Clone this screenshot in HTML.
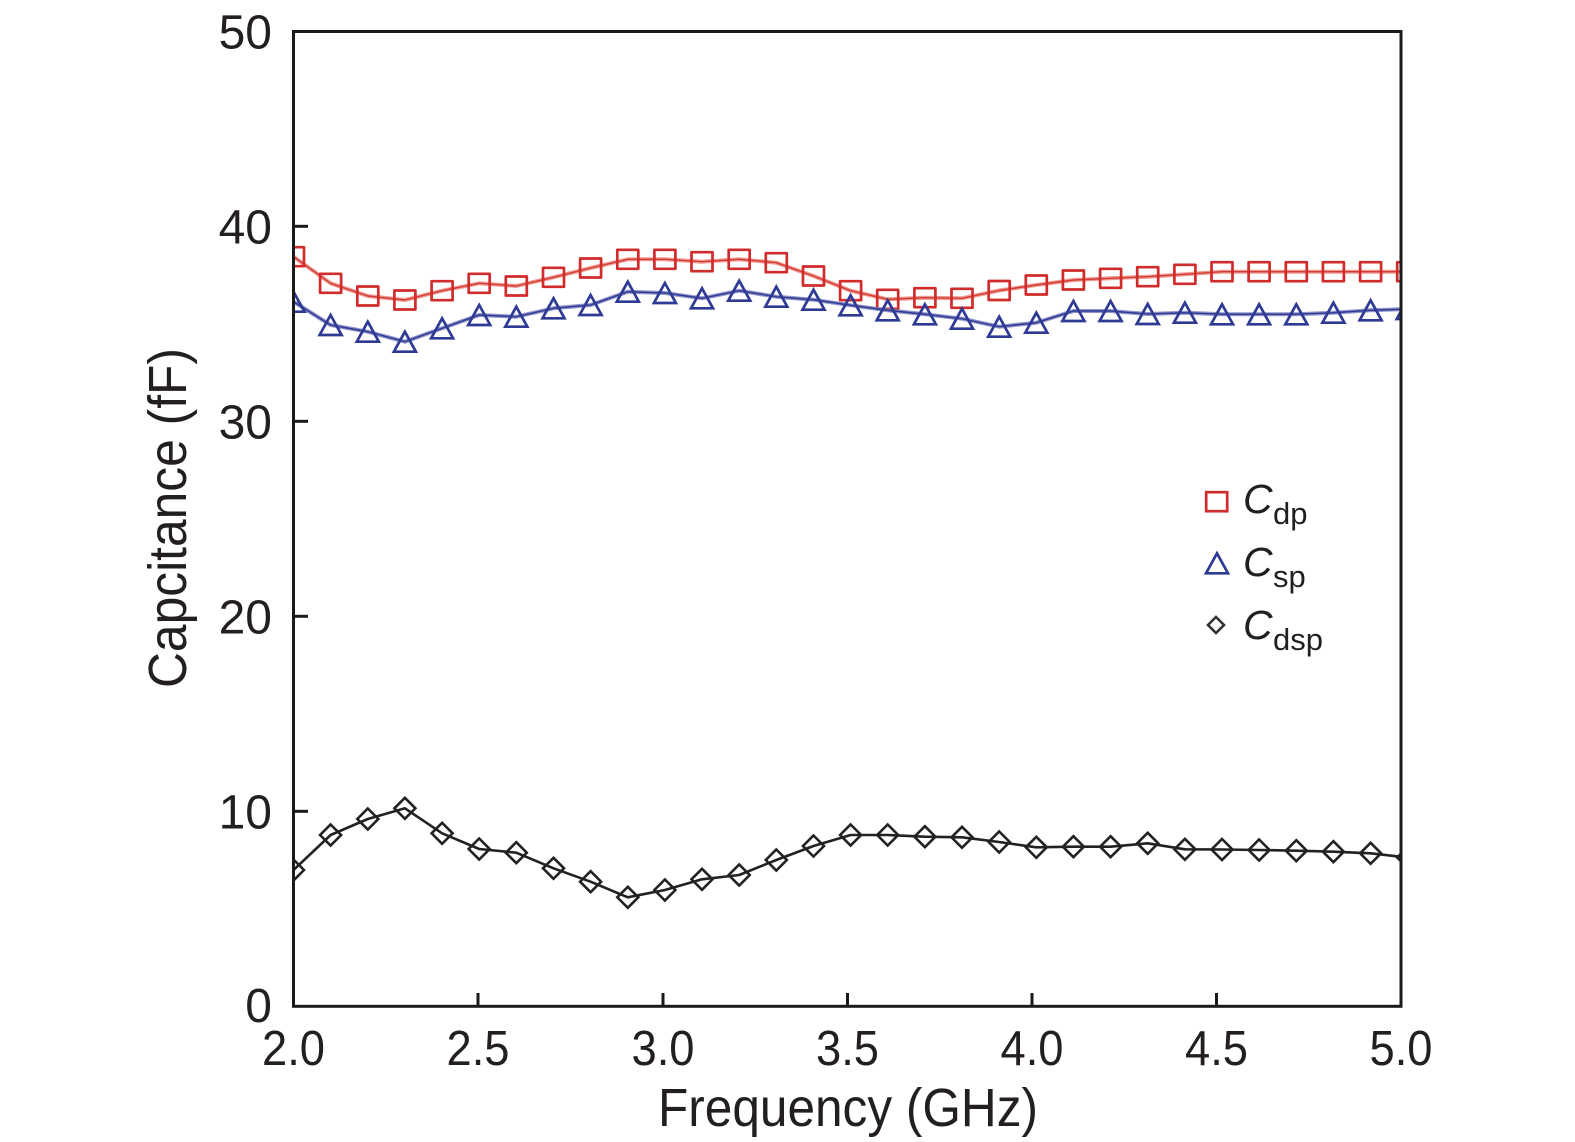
<!DOCTYPE html>
<html>
<head>
<meta charset="utf-8">
<style>
html,body{margin:0;padding:0;background:#fff;}
svg{display:block;}
text{font-family:"Liberation Sans","DejaVu Sans",sans-serif;fill:#231f20;}
</style>
</head>
<body>
<svg width="1575" height="1142" viewBox="0 0 1575 1142" xmlns="http://www.w3.org/2000/svg">
<defs>
<clipPath id="pa"><rect x="293.5" y="31.5" width="1107.5" height="974.8"/></clipPath>
</defs>
<rect width="1575" height="1142" fill="#fff"/>

<g clip-path="url(#pa)" fill="none" stroke-linejoin="round" stroke-linecap="round">
<!-- Red Cdp -->
<polyline stroke="#ea8a7c" stroke-width="4" opacity="0.85" points="293.5,256.7 330.6,283.3 367.8,296 404.9,300 442.1,290.7 479.2,283.3 516.3,286 553.5,277.3 590.6,268 627.8,259.3 664.9,259.3 702,261.7 739.2,259.3 776.3,262.7 813.5,276 850.6,290.7 887.7,299.3 924.9,297.7 962,298.3 999.2,290.5 1036.3,285 1073.4,280 1110.6,278.3 1147.7,276.7 1184.9,274.3 1222,271.7 1259.1,271.7 1296.3,271.7 1333.4,271.7 1370.6,271.7 1407.7,271.7"/>
<polyline stroke="#d43a34" stroke-width="1.4" points="293.5,256.7 330.6,283.3 367.8,296 404.9,300 442.1,290.7 479.2,283.3 516.3,286 553.5,277.3 590.6,268 627.8,259.3 664.9,259.3 702,261.7 739.2,259.3 776.3,262.7 813.5,276 850.6,290.7 887.7,299.3 924.9,297.7 962,298.3 999.2,290.5 1036.3,285 1073.4,280 1110.6,278.3 1147.7,276.7 1184.9,274.3 1222,271.7 1259.1,271.7 1296.3,271.7 1333.4,271.7 1370.6,271.7 1407.7,271.7"/>
<g stroke="#d22b2b" stroke-width="2.7">
<rect x="283" y="247.2" width="21" height="19"/>
<rect x="320.1" y="273.8" width="21" height="19"/>
<rect x="357.3" y="286.5" width="21" height="19"/>
<rect x="394.4" y="290.5" width="21" height="19"/>
<rect x="431.6" y="281.2" width="21" height="19"/>
<rect x="468.7" y="273.8" width="21" height="19"/>
<rect x="505.8" y="276.5" width="21" height="19"/>
<rect x="543" y="267.8" width="21" height="19"/>
<rect x="580.1" y="258.5" width="21" height="19"/>
<rect x="617.3" y="249.8" width="21" height="19"/>
<rect x="654.4" y="249.8" width="21" height="19"/>
<rect x="691.5" y="252.2" width="21" height="19"/>
<rect x="728.7" y="249.8" width="21" height="19"/>
<rect x="765.8" y="253.2" width="21" height="19"/>
<rect x="803" y="266.5" width="21" height="19"/>
<rect x="840.1" y="281.2" width="21" height="19"/>
<rect x="877.2" y="289.8" width="21" height="19"/>
<rect x="914.4" y="288.2" width="21" height="19"/>
<rect x="951.5" y="288.8" width="21" height="19"/>
<rect x="988.7" y="281" width="21" height="19"/>
<rect x="1025.8" y="275.5" width="21" height="19"/>
<rect x="1062.9" y="270.5" width="21" height="19"/>
<rect x="1100.1" y="268.8" width="21" height="19"/>
<rect x="1137.2" y="267.2" width="21" height="19"/>
<rect x="1174.4" y="264.8" width="21" height="19"/>
<rect x="1211.5" y="262.2" width="21" height="19"/>
<rect x="1248.6" y="262.2" width="21" height="19"/>
<rect x="1285.8" y="262.2" width="21" height="19"/>
<rect x="1322.9" y="262.2" width="21" height="19"/>
<rect x="1360.1" y="262.2" width="21" height="19"/>
<rect x="1397.2" y="262.2" width="21" height="19"/>
</g>

<!-- Blue Csp -->
<polyline stroke="#7d80c0" stroke-width="4" opacity="0.85" points="293.5,301.7 330.6,325 367.8,331.7 404.9,341.7 442.1,328.3 479.2,315 516.3,316.7 553.5,308.3 590.6,305 627.8,291.7 664.9,293 702,298.3 739.2,290.7 776.3,296.7 813.5,299.7 850.6,305.3 887.7,310.3 924.9,314.3 962,318.7 999.2,326.7 1036.3,322.7 1073.4,311 1110.6,311 1147.7,314 1184.9,312.7 1222,314.3 1259.1,314.3 1296.3,314.3 1333.4,312.7 1370.6,310.3 1407.7,309"/>
<polyline stroke="#2e3a94" stroke-width="1.5" points="293.5,301.7 330.6,325 367.8,331.7 404.9,341.7 442.1,328.3 479.2,315 516.3,316.7 553.5,308.3 590.6,305 627.8,291.7 664.9,293 702,298.3 739.2,290.7 776.3,296.7 813.5,299.7 850.6,305.3 887.7,310.3 924.9,314.3 962,318.7 999.2,326.7 1036.3,322.7 1073.4,311 1110.6,311 1147.7,314 1184.9,312.7 1222,314.3 1259.1,314.3 1296.3,314.3 1333.4,312.7 1370.6,310.3 1407.7,309"/>
<g stroke="#2e3a94" stroke-width="2.7" stroke-linejoin="miter">
<polygon points="293.5,291.7 282.5,311.7 304.5,311.7"/>
<polygon points="330.6,315 319.6,335 341.6,335"/>
<polygon points="367.8,321.7 356.8,341.7 378.8,341.7"/>
<polygon points="404.9,331.7 393.9,351.7 415.9,351.7"/>
<polygon points="442.1,318.3 431.1,338.3 453.1,338.3"/>
<polygon points="479.2,305 468.2,325 490.2,325"/>
<polygon points="516.3,306.7 505.3,326.7 527.3,326.7"/>
<polygon points="553.5,298.3 542.5,318.3 564.5,318.3"/>
<polygon points="590.6,295 579.6,315 601.6,315"/>
<polygon points="627.8,281.7 616.8,301.7 638.8,301.7"/>
<polygon points="664.9,283 653.9,303 675.9,303"/>
<polygon points="702,288.3 691,308.3 713,308.3"/>
<polygon points="739.2,280.7 728.2,300.7 750.2,300.7"/>
<polygon points="776.3,286.7 765.3,306.7 787.3,306.7"/>
<polygon points="813.5,289.7 802.5,309.7 824.5,309.7"/>
<polygon points="850.6,295.3 839.6,315.3 861.6,315.3"/>
<polygon points="887.7,300.3 876.7,320.3 898.7,320.3"/>
<polygon points="924.9,304.3 913.9,324.3 935.9,324.3"/>
<polygon points="962,308.7 951,328.7 973,328.7"/>
<polygon points="999.2,316.7 988.2,336.7 1010.2,336.7"/>
<polygon points="1036.3,312.7 1025.3,332.7 1047.3,332.7"/>
<polygon points="1073.4,301 1062.4,321 1084.4,321"/>
<polygon points="1110.6,301 1099.6,321 1121.6,321"/>
<polygon points="1147.7,304 1136.7,324 1158.7,324"/>
<polygon points="1184.9,302.7 1173.9,322.7 1195.9,322.7"/>
<polygon points="1222,304.3 1211,324.3 1233,324.3"/>
<polygon points="1259.1,304.3 1248.1,324.3 1270.1,324.3"/>
<polygon points="1296.3,304.3 1285.3,324.3 1307.3,324.3"/>
<polygon points="1333.4,302.7 1322.4,322.7 1344.4,322.7"/>
<polygon points="1370.6,300.3 1359.6,320.3 1381.6,320.3"/>
<polygon points="1407.7,299 1396.7,319 1418.7,319"/>
</g>

<!-- Black Cdsp -->
<polyline stroke="#222" stroke-width="2.6" points="293.5,870 330.6,835 367.8,819 404.9,808.3 442.1,833.3 479.2,849 516.3,852.7 553.5,868.3 590.6,881.7 627.8,897.3 664.9,890 702,879.3 739.2,875 776.3,860 813.5,846 850.6,835 887.7,835 924.9,836.7 962,837.3 999.2,842 1036.3,847.3 1073.4,846.7 1110.6,846.7 1147.7,843.3 1184.9,849.3 1222,849.5 1259.1,850 1296.3,850.7 1333.4,851.7 1370.6,853.3 1407.7,857.5"/>
<g stroke="#222" stroke-width="2.6" stroke-linejoin="miter">
<polygon points="293.5,859.5 304,870 293.5,880.5 283,870"/>
<polygon points="330.6,824.5 341.1,835 330.6,845.5 320.1,835"/>
<polygon points="367.8,808.5 378.3,819 367.8,829.5 357.3,819"/>
<polygon points="404.9,797.8 415.4,808.3 404.9,818.8 394.4,808.3"/>
<polygon points="442.1,822.8 452.6,833.3 442.1,843.8 431.6,833.3"/>
<polygon points="479.2,838.5 489.7,849 479.2,859.5 468.7,849"/>
<polygon points="516.3,842.2 526.8,852.7 516.3,863.2 505.8,852.7"/>
<polygon points="553.5,857.8 564,868.3 553.5,878.8 543,868.3"/>
<polygon points="590.6,871.2 601.1,881.7 590.6,892.2 580.1,881.7"/>
<polygon points="627.8,886.8 638.3,897.3 627.8,907.8 617.3,897.3"/>
<polygon points="664.9,879.5 675.4,890 664.9,900.5 654.4,890"/>
<polygon points="702,868.8 712.5,879.3 702,889.8 691.5,879.3"/>
<polygon points="739.2,864.5 749.7,875 739.2,885.5 728.7,875"/>
<polygon points="776.3,849.5 786.8,860 776.3,870.5 765.8,860"/>
<polygon points="813.5,835.5 824,846 813.5,856.5 803,846"/>
<polygon points="850.6,824.5 861.1,835 850.6,845.5 840.1,835"/>
<polygon points="887.7,824.5 898.2,835 887.7,845.5 877.2,835"/>
<polygon points="924.9,826.2 935.4,836.7 924.9,847.2 914.4,836.7"/>
<polygon points="962,826.8 972.5,837.3 962,847.8 951.5,837.3"/>
<polygon points="999.2,831.5 1009.7,842 999.2,852.5 988.7,842"/>
<polygon points="1036.3,836.8 1046.8,847.3 1036.3,857.8 1025.8,847.3"/>
<polygon points="1073.4,836.2 1083.9,846.7 1073.4,857.2 1062.9,846.7"/>
<polygon points="1110.6,836.2 1121.1,846.7 1110.6,857.2 1100.1,846.7"/>
<polygon points="1147.7,832.8 1158.2,843.3 1147.7,853.8 1137.2,843.3"/>
<polygon points="1184.9,838.8 1195.4,849.3 1184.9,859.8 1174.4,849.3"/>
<polygon points="1222,839 1232.5,849.5 1222,860 1211.5,849.5"/>
<polygon points="1259.1,839.5 1269.6,850 1259.1,860.5 1248.6,850"/>
<polygon points="1296.3,840.2 1306.8,850.7 1296.3,861.2 1285.8,850.7"/>
<polygon points="1333.4,841.2 1343.9,851.7 1333.4,862.2 1322.9,851.7"/>
<polygon points="1370.6,842.8 1381.1,853.3 1370.6,863.8 1360.1,853.3"/>
<polygon points="1407.7,847 1418.2,857.5 1407.7,868 1397.2,857.5"/>
</g>
</g>

<!-- Axes frame -->
<rect x="293.5" y="31.5" width="1107.5" height="974.8" fill="none" stroke="#1a1a1a" stroke-width="3"/>
<!-- Y ticks -->
<g stroke="#1a1a1a" stroke-width="3">
<line x1="293.5" y1="226.3" x2="308" y2="226.3"/>
<line x1="293.5" y1="421.3" x2="308" y2="421.3"/>
<line x1="293.5" y1="616.3" x2="308" y2="616.3"/>
<line x1="293.5" y1="811.3" x2="308" y2="811.3"/>
<line x1="478" y1="1006.3" x2="478" y2="993"/>
<line x1="663" y1="1006.3" x2="663" y2="993"/>
<line x1="847.5" y1="1006.3" x2="847.5" y2="993"/>
<line x1="1032" y1="1006.3" x2="1032" y2="993"/>
<line x1="1216.5" y1="1006.3" x2="1216.5" y2="993"/>
</g>

<!-- Y tick labels -->
<g font-size="48" text-anchor="end">
<text x="272" y="48.3">50</text>
<text x="272" y="243.3">40</text>
<text x="272" y="438.3">30</text>
<text x="272" y="633.3">20</text>
<text x="272" y="828.3">10</text>
<text x="272" y="1022">0</text>
</g>
<!-- X tick labels -->
<g font-size="49" text-anchor="middle">
<text x="293.5" y="1065" textLength="63" lengthAdjust="spacingAndGlyphs">2.0</text>
<text x="478" y="1065" textLength="63" lengthAdjust="spacingAndGlyphs">2.5</text>
<text x="663" y="1065" textLength="63" lengthAdjust="spacingAndGlyphs">3.0</text>
<text x="847.5" y="1065" textLength="63" lengthAdjust="spacingAndGlyphs">3.5</text>
<text x="1032" y="1065" textLength="63" lengthAdjust="spacingAndGlyphs">4.0</text>
<text x="1216.5" y="1065" textLength="63" lengthAdjust="spacingAndGlyphs">4.5</text>
<text x="1401" y="1065" textLength="63" lengthAdjust="spacingAndGlyphs">5.0</text>
</g>

<!-- Axis labels -->
<text x="848" y="1126" font-size="54" text-anchor="middle" textLength="380" lengthAdjust="spacingAndGlyphs">Frequency (GHz)</text>
<text transform="translate(186,518) rotate(-90)" x="0" y="0" font-size="54" text-anchor="middle" textLength="340" lengthAdjust="spacingAndGlyphs">Capcitance (fF)</text>

<!-- Legend -->
<rect x="1206.2" y="492.2" width="21" height="19" fill="none" stroke="#d22b2b" stroke-width="2.7"/>
<polygon points="1217,553.3 1206,573.3 1228,573.3" fill="none" stroke="#2e3a94" stroke-width="2.7"/>
<polygon points="1216,617 1224,625 1216,633 1208,625" fill="none" stroke="#333" stroke-width="2.6"/>

<text x="1243" y="513" font-size="41" font-style="italic">C</text>
<text x="1273" y="524" font-size="31">dp</text>
<text x="1243" y="576" font-size="41" font-style="italic">C</text>
<text x="1273" y="587" font-size="31">sp</text>
<text x="1243" y="639" font-size="41" font-style="italic">C</text>
<text x="1273" y="650" font-size="31">dsp</text>
</svg>
</body>
</html>
